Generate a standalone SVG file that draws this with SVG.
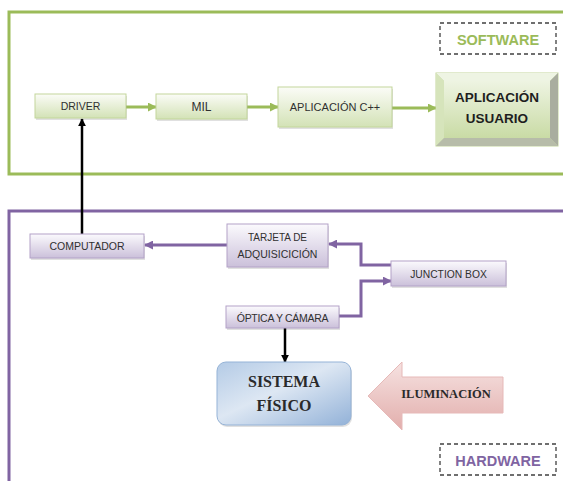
<svg xmlns="http://www.w3.org/2000/svg" width="563" height="481" viewBox="0 0 563 481">
  <defs>
    <linearGradient id="gGreen" x1="0" y1="0" x2="0" y2="1">
      <stop offset="0" stop-color="#fbfcf7"/>
      <stop offset="1" stop-color="#d3e2b6"/>
    </linearGradient>
    <linearGradient id="gGreenFace" x1="0" y1="0" x2="0" y2="1">
      <stop offset="0" stop-color="#eef4e2"/>
      <stop offset="1" stop-color="#c9dba5"/>
    </linearGradient>
    <linearGradient id="gPurple" x1="0" y1="0" x2="0" y2="1">
      <stop offset="0" stop-color="#fbfafd"/>
      <stop offset="1" stop-color="#cbc0da"/>
    </linearGradient>
    <linearGradient id="gBlue" x1="0" y1="0" x2="1" y2="1">
      <stop offset="0" stop-color="#b4cbe6"/>
      <stop offset="0.45" stop-color="#dde7f3"/>
      <stop offset="1" stop-color="#93b2d8"/>
    </linearGradient>
    <linearGradient id="gPink" x1="0" y1="0" x2="0" y2="1">
      <stop offset="0" stop-color="#f6e2e1"/>
      <stop offset="1" stop-color="#e2aeac"/>
    </linearGradient>
    <marker id="ahGreen" viewBox="0 0 10 10" refX="9" refY="5" markerWidth="3" markerHeight="3" markerUnits="strokeWidth" orient="auto">
      <path d="M0,0 L10,5 L0,10 z" fill="#9bbb59"/>
    </marker>
    <marker id="ahPurple" viewBox="0 0 10 10" refX="9" refY="5" markerWidth="3" markerHeight="3" markerUnits="strokeWidth" orient="auto">
      <path d="M0,0 L10,5 L0,10 z" fill="#8064a2"/>
    </marker>
    <marker id="ahBlack" viewBox="0 0 10 10" refX="9" refY="5" markerWidth="3.2" markerHeight="3.2" markerUnits="strokeWidth" orient="auto">
      <path d="M0,0 L10,5 L0,10 z" fill="#000"/>
    </marker>
  </defs>
  <style>
    .frameG { fill: none; stroke: #9bbb59; stroke-width: 3; }
    .frameP { fill: none; stroke: #8064a2; stroke-width: 3; }
    .tag { fill: #fff; stroke: #404040; stroke-width: 1.3; stroke-dasharray: 4 3; }
    .shadow { fill: #000; opacity: 0.12; }
    .boxG { fill: url(#gGreen); stroke: #c3d69b; stroke-width: 1; }
    .boxP { fill: url(#gPurple); stroke: #b3a2c7; stroke-width: 1; }
    .lbl { font-family: "Liberation Sans", Arial, sans-serif; fill: #303030; text-anchor: middle; }
    .serif { font-family: "Liberation Serif", "Times New Roman", serif; font-weight: bold; fill: #2a2a2a; text-anchor: middle; }
    .cG { fill: none; stroke: #9bbb59; stroke-width: 3; marker-end: url(#ahGreen); }
    .cP { fill: none; stroke: #8064a2; stroke-width: 3; marker-end: url(#ahPurple); }
    .cK { fill: none; stroke: #000; stroke-width: 2.5; marker-end: url(#ahBlack); }
  </style>

  <rect width="563" height="481" fill="#fff"/>

  <!-- section frames -->
  <rect class="frameG" x="9" y="12" width="570" height="162"/>
  <rect class="frameP" x="9" y="211" width="570" height="290"/>

  <g id="software-tag">
    <rect class="tag" x="440" y="23" width="116" height="31"/>
    <text class="lbl" x="498" y="45" font-size="14.5" font-weight="bold" style="fill:#9bbb59">SOFTWARE</text>
  </g>
  <g id="hardware-tag">
    <rect class="tag" x="440" y="444" width="116" height="31"/>
    <text class="lbl" x="498" y="466" font-size="14.5" font-weight="bold" style="fill:#8064a2">HARDWARE</text>
  </g>

  <!-- connectors -->
  <g id="connectors">
    <line class="cG" x1="126" y1="107" x2="156" y2="107"/>
    <line class="cG" x1="247" y1="107" x2="278" y2="107"/>
    <line class="cG" x1="392" y1="108" x2="436" y2="108"/>
    <line class="cK" x1="82" y1="234" x2="82" y2="119"/>
    <line class="cK" x1="285" y1="328" x2="285" y2="362"/>
    <line class="cP" x1="227" y1="245" x2="145" y2="245"/>
    <polyline class="cP" points="391,265 361,265 361,244 329,244"/>
    <polyline class="cP" points="339,316 361,316 361,281 391,281"/>
  </g>

  <g id="driver">
    <rect class="shadow" x="36" y="96" width="91" height="24"/>
    <rect class="boxG" x="35" y="94" width="91" height="24"/>
    <text class="lbl" x="80.5" y="110" font-size="10.5">DRIVER</text>
  </g>
  <g id="mil">
    <rect class="shadow" x="157" y="96" width="91" height="25"/>
    <rect class="boxG" x="156" y="94" width="91" height="25"/>
    <text class="lbl" x="201.5" y="111" font-size="12">MIL</text>
  </g>
  <g id="aplicacion-cpp">
    <rect class="shadow" x="279" y="89" width="114" height="40"/>
    <rect class="boxG" x="278" y="87" width="114" height="40"/>
    <text class="lbl" x="335" y="111" font-size="11">APLICACIÓN C++</text>
  </g>
  <g id="aplicacion-usuario">
    <rect x="436" y="73" width="122" height="73" fill="#c9dba5" stroke="#c3d69b" stroke-width="1"/>
    <polygon points="436,73 558,73 550,81 444,81" fill="#eef4e3"/>
    <polygon points="436,73 444,81 444,138 436,146" fill="#d6e4bb"/>
    <polygon points="558,73 558,146 550,138 550,81" fill="#a9ad9f"/>
    <polygon points="436,146 444,138 550,138 558,146" fill="#b7bca9"/>
    <rect x="444" y="81" width="106" height="57" fill="url(#gGreenFace)"/>
    <text class="lbl" x="497" y="102" font-size="13.5" font-weight="bold" style="fill:#1e1e1e">APLICACIÓN</text>
    <text class="lbl" x="497" y="123" font-size="13.5" font-weight="bold" style="fill:#1e1e1e">USUARIO</text>
  </g>

  <g id="computador">
    <rect class="shadow" x="31" y="236" width="114" height="24"/>
    <rect class="boxP" x="30" y="234" width="114" height="24"/>
    <text class="lbl" x="87" y="249.5" font-size="10.5">COMPUTADOR</text>
  </g>
  <g id="tarjeta">
    <rect class="shadow" x="228" y="226" width="101" height="43"/>
    <rect class="boxP" x="227" y="224" width="101" height="43"/>
    <text class="lbl" x="277.5" y="241" font-size="10">TARJETA DE</text>
    <text class="lbl" x="277.5" y="258" font-size="10.5">ADQUISICICIÓN</text>
  </g>
  <g id="junction-box">
    <rect class="shadow" x="392" y="263" width="115" height="25"/>
    <rect class="boxP" x="391" y="261" width="115" height="25"/>
    <text class="lbl" x="448.5" y="277.5" font-size="10.3">JUNCTION BOX</text>
  </g>
  <g id="optica-camara">
    <rect class="shadow" x="227" y="308" width="113" height="22"/>
    <rect class="boxP" x="226" y="306" width="113" height="22"/>
    <text class="lbl" x="282.5" y="321.5" font-size="10.5" letter-spacing="-0.3">ÓPTICA Y CÁMARA</text>
  </g>

  <g id="sistema-fisico">
    <rect x="218" y="364" width="134" height="63" rx="9" fill="#000" opacity="0.12"/>
    <rect x="217" y="362" width="134" height="63" rx="9" fill="url(#gBlue)" stroke="#95b3d7" stroke-width="1"/>
    <text class="serif" x="284" y="387" font-size="16">SISTEMA</text>
    <text class="serif" x="284" y="411" font-size="16">FÍSICO</text>
  </g>

  <g id="iluminacion">
    <polygon points="368,396 402,362 402,377 503,377 503,413 402,413 402,430" fill="url(#gPink)" stroke="#e6b9b8" stroke-width="1"/>
    <text class="serif" x="446" y="398" font-size="12.5">ILUMINACIÓN</text>
  </g>
</svg>
